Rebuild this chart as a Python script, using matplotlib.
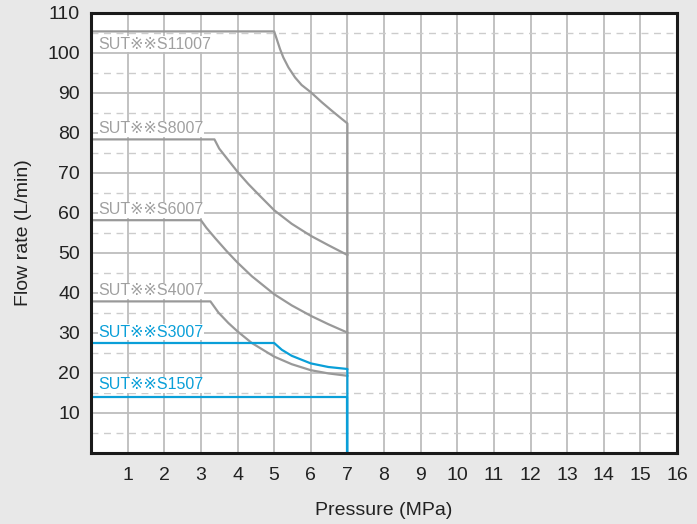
import matplotlib
matplotlib.use("Agg")
import matplotlib.pyplot as plt

# Flow rate vs pressure curves
p_11007 = [0, 5.0, 5.07, 5.16, 5.25, 5.39, 5.57, 5.75, 6.0, 6.3, 6.57, 6.85, 7.0, 7.0]
q_11007 = [105.4, 105.4, 103.5, 101.0, 98.9, 96.4, 93.9, 92.0, 90.2, 87.7, 85.6, 83.5, 82.4, 21.0]

p_8007 = [0, 3.37, 3.5, 3.8, 4.0, 4.3, 4.62, 5.0, 5.48, 6.0, 6.47, 7.0]
q_8007 = [78.4, 78.4, 76.1, 72.6, 70.3, 67.2, 64.2, 60.7, 57.3, 54.3, 52.0, 49.5]

p_6007 = [0, 3.0, 3.15, 3.4, 3.71, 4.0, 4.39, 5.0, 5.48, 6.0, 6.48, 7.0]
q_6007 = [58.2, 58.2, 56.3, 53.6, 50.4, 47.6, 44.2, 39.7, 36.9, 34.3, 32.2, 30.1]

p_4007 = [0, 3.26, 3.48, 3.75, 4.0, 4.39, 5.0, 5.48, 6.0, 6.48, 7.0]
q_4007 = [37.9, 37.9, 35.1, 32.5, 30.4, 27.5, 24.1, 22.2, 20.7, 19.9, 19.3]

p_3007 = [0, 5.0, 5.21, 5.48, 6.0, 6.48, 7.0, 7.0]
q_3007 = [27.5, 27.5, 25.8, 24.3, 22.4, 21.5, 21.0, 0]

p_1507 = [0, 7.0, 7.0]
q_1507 = [14.1, 14.1, 0]

labels = ["SUT※※S11007", "SUT※※S8007", "SUT※※S6007",
          "SUT※※S4007", "SUT※※S3007", "SUT※※S1507"]
label_y = [102.2, 81.0, 60.8, 40.5, 30.2, 17.0]

x_ticks = list(range(1, 17))
y_ticks = list(range(10, 111, 10))
y_minor = list(range(5, 110, 10))

gray = "#999999"
blue = "#0a9fd8"
grid_c = "#bdbdbd"

plt.rcParams['font.family'] = ['Liberation Sans', 'DejaVu Sans', 'Noto Sans CJK JP']

fig = plt.figure(figsize=(6.97, 5.24), dpi=100, facecolor="#e8e8e8")
ax = fig.add_axes([0.1306, 0.1355, 0.8407, 0.8397])
ax.set_facecolor("white")

# grid
for x in x_ticks:
    ax.axvline(x, color=grid_c, lw=1.3, zorder=1)
for y in y_ticks:
    ax.axhline(y, color=grid_c, lw=1.3, zorder=1)
for y in y_minor:
    ax.axhline(y, color="#cccccc", lw=1.0, ls=(0, (5, 4)), zorder=1)

ax.plot(p_11007, q_11007, color=gray, lw=1.6, zorder=3)
ax.plot(p_8007, q_8007, color=gray, lw=1.6, zorder=3)
ax.plot(p_6007, q_6007, color=gray, lw=1.6, zorder=3)
ax.plot(p_4007, q_4007, color=gray, lw=1.6, zorder=3)
ax.plot(p_3007, q_3007, color=blue, lw=1.6, zorder=4)
ax.plot(p_1507, q_1507, color=blue, lw=1.6, zorder=4)

label_colors = [gray, gray, gray, gray, blue, blue]
for txt, y, c in zip(labels, label_y, label_colors):
    col = "#a0a0a0" if c == gray else c
    ax.text(0.2, y, txt, color=col, fontsize=11.5, va="center", ha="left",
            zorder=2, bbox=dict(facecolor="white", edgecolor="none", pad=0.5))

ax.set_xlim(0, 16)
ax.set_ylim(0, 110)
ax.set_xticks(x_ticks)
ax.set_yticks(y_ticks)
ax.tick_params(length=0, labelsize=14, colors="#222222")
ax.tick_params(axis="x", pad=10)
ax.tick_params(axis="y", pad=8)
for s in ax.spines.values():
    s.set_linewidth(2.2)
    s.set_color("#1a1a1a")
    s.set_zorder(5)

ax.set_xlabel("Pressure (MPa)", fontsize=14, color="#222222", labelpad=13)
ax.set_ylabel("Flow rate (L/min)", fontsize=14, color="#222222", labelpad=11)

fig.savefig("out.png", dpi=100, facecolor=fig.get_facecolor())
